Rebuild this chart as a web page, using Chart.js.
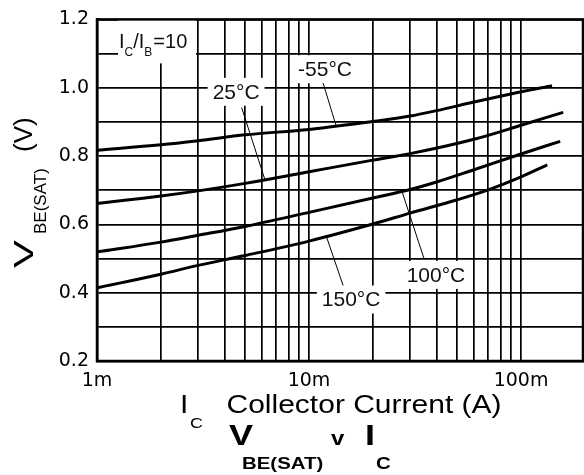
<!DOCTYPE html>
<html><head><meta charset="utf-8">
<script src="https://cdn.jsdelivr.net/npm/chart.js@4.4.1/dist/chart.umd.min.js"></script>
<style>html,body{margin:0;padding:0;background:#fff;}#wrap{width:584px;height:475px;}</style>
</head><body><div id="wrap"><canvas id="c" width="584" height="475"></canvas></div>
<script>
// ---- data (collector current in A, V_BE(SAT) in V) ----
const currentM55 = [0.001, 0.002, 0.003, 0.005, 0.01, 0.02, 0.03, 0.04, 0.06, 0.1, 0.14];
const vbeM55     = [0.817, 0.833, 0.845, 0.862, 0.878, 0.901, 0.917, 0.933, 0.958, 0.988, 1.006];
const current25  = [0.001, 0.002, 0.003, 0.005, 0.01, 0.02, 0.03, 0.06, 0.1, 0.158];
const vbe25      = [0.661, 0.683, 0.698, 0.720, 0.754, 0.788, 0.807, 0.849, 0.890, 0.928];
const current100 = [0.001, 0.002, 0.003, 0.005, 0.01, 0.02, 0.03, 0.04, 0.06, 0.1, 0.153];
const vbe100     = [0.519, 0.548, 0.568, 0.594, 0.635, 0.677, 0.702, 0.724, 0.760, 0.806, 0.843];
const current150 = [0.001, 0.002, 0.003, 0.005, 0.01, 0.02, 0.03, 0.05, 0.07, 0.1, 0.133];
const vbe150     = [0.414, 0.454, 0.480, 0.509, 0.551, 0.601, 0.633, 0.672, 0.701, 0.739, 0.774];

const xMin = 0.001, xMax = 0.196;
const yMin = 0.2, yMax = 1.2;
const xTickValues = [0.001, 0.01, 0.1];
const xTickLabels = ['1m', '10m', '100m'];
const xGridValues = [0.001,0.002,0.003,0.004,0.005,0.006,0.007,0.008,0.009,
                     0.01,0.02,0.03,0.04,0.05,0.06,0.07,0.08,0.09,0.1];
const yTickValues = [0.2, 0.4, 0.6, 0.8, 1.0, 1.2];
const yTickLabels = ['0.2', '0.4', '0.6', '0.8', '1.0', '1.2'];

// curve labels (data coordinates)
const labelTexts    = ['-55°C', '25°C', '100°C', '150°C'];
const labelCurrents = [0.0119, 0.00453, 0.0397, 0.0158];
const labelVoltages = [1.054, 0.988, 0.452, 0.380];
const leaderFromCurrents = [0.01165, 0.00481, 0.0275, 0.0121];
const leaderFromVoltages = [1.014, 0.942, 0.695, 0.563];
const leaderToCurrents   = [0.0134, 0.0062, 0.0349, 0.0145];
const leaderToVoltages   = [0.890, 0.730, 0.499, 0.420];

const toPts = (xs, ys) => xs.map((x, i) => ({x: x, y: ys[i]}));
const SANS = '"Liberation Sans", Arial, sans-serif';

function txt(ctx, s, x, y, font, sx) {
  ctx.save(); ctx.font = font; ctx.translate(x, y); ctx.scale(sx || 1, 1);
  ctx.fillText(s, 0, 0); const w = ctx.measureText(s).width * (sx || 1);
  ctx.restore(); return w;
}

const decorPlugin = {
  id: 'decor',
  afterDatasetsDraw(chart) {
    const ctx = chart.ctx, xs = chart.scales.x, ys = chart.scales.y, ca = chart.chartArea;
    ctx.save();
    ctx.textBaseline = 'alphabetic';
    // Ic/Ib box
    ctx.fillStyle = '#fff';
    ctx.fillRect(ca.left + 21, ca.top, 78, 44);
    ctx.fillStyle = '#111';
    let x = ca.left + 22; const b = ca.top + 29;
    x += txt(ctx, 'I', x, b, '20px ' + SANS);
    x += txt(ctx, 'C', x, b + 8, '12px ' + SANS);
    x += txt(ctx, '/I', x, b, '20px ' + SANS);
    x += txt(ctx, 'B', x, b + 8, '12px ' + SANS);
    x += txt(ctx, '=10', x + 1, b, '20px ' + SANS);
    // leaders
    ctx.strokeStyle = '#000'; ctx.lineWidth = 1;
    for (let i = 0; i < labelTexts.length; i++) {
      ctx.beginPath();
      ctx.moveTo(xs.getPixelForValue(leaderFromCurrents[i]), ys.getPixelForValue(leaderFromVoltages[i]));
      ctx.lineTo(xs.getPixelForValue(leaderToCurrents[i]), ys.getPixelForValue(leaderToVoltages[i]));
      ctx.stroke();
    }
    // curve labels
    ctx.font = '21px ' + SANS;
    for (let i = 0; i < labelTexts.length; i++) {
      const cx = xs.getPixelForValue(labelCurrents[i]);
      const cy = ys.getPixelForValue(labelVoltages[i]);
      const w = ctx.measureText(labelTexts[i]).width;
      ctx.fillStyle = '#fff';
      ctx.fillRect(cx - w / 2 - 5, cy - 14, w + 10, 28);
      ctx.fillStyle = '#111';
      ctx.textAlign = 'center'; ctx.textBaseline = 'middle';
      ctx.fillText(labelTexts[i], cx, cy + 1);
    }
    // frame
    ctx.strokeStyle = '#000'; ctx.lineWidth = 2.5;
    ctx.strokeRect(ca.left, ca.top, ca.right - ca.left, ca.bottom - ca.top);
    ctx.restore();
  },
  afterDraw(chart) {
    const ctx = chart.ctx;
    ctx.save();
    ctx.fillStyle = '#000';
    ctx.textBaseline = 'alphabetic'; ctx.textAlign = 'left';
    // x axis title
    txt(ctx, 'I', 180, 413, '25px ' + SANS, 1.2);
    txt(ctx, 'C', 190, 428, '15px ' + SANS, 1.2);
    txt(ctx, 'Collector Current (A)', 226.5, 413, '25px ' + SANS, 1.2);
    // chart title
    txt(ctx, 'V', 229, 445, 'bold 30px ' + SANS, 1.2);
    txt(ctx, 'BE(SAT)', 242, 469, 'bold 17px ' + SANS, 1.2);
    txt(ctx, 'v', 331, 445, 'bold 20px ' + SANS, 1.2);
    txt(ctx, 'I', 365, 445, 'bold 30px ' + SANS, 1.2);
    txt(ctx, 'C', 376, 469, 'bold 17px ' + SANS, 1.2);
    // y axis title (rotated)
    const rot = (s, bx, by, font, sx) => {
      ctx.save(); ctx.translate(bx, by); ctx.rotate(-Math.PI / 2); ctx.scale(sx || 1, 1);
      ctx.font = font; ctx.fillText(s, 0, 0); ctx.restore();
    };
    rot('V', 33, 268, '28px ' + SANS, 1.5);
    rot('BE(SAT)', 46, 234, '17px ' + SANS, 1);
    rot('(V)', 31.5, 152, '26px ' + SANS, 1);
    ctx.restore();
  }
};

const mk = (label, xs, ys) => ({
  label: label, data: toPts(xs, ys), borderColor: '#000', borderWidth: 3,
  pointRadius: 0, fill: false, cubicInterpolationMode: 'monotone'
});

new Chart(document.getElementById('c'), {
  type: 'line',
  data: { datasets: [
    mk('-55°C', currentM55, vbeM55),
    mk('25°C', current25, vbe25),
    mk('100°C', current100, vbe100),
    mk('150°C', current150, vbe150)
  ]},
  options: {
    responsive: false, animation: false, devicePixelRatio: 1,
    layout: { padding: { left: 0, top: 16, right: 1, bottom: 0 } },
    plugins: { legend: { display: false }, tooltip: { enabled: false }, title: { display: false } },
    scales: {
      x: {
        type: 'logarithmic', min: xMin, max: xMax,
        afterBuildTicks: s => { s.ticks = xGridValues.map(v => ({ value: v })); },
        afterFit: s => { s.height = 114; },
        grid: { color: '#000', lineWidth: 1.7, drawTicks: false },
        border: { display: true, color: '#000', width: 2.5 },
        ticks: {
          autoSkip: false, maxRotation: 0, padding: 9, color: '#000',
          font: { family: '"DejaVu Sans"', size: 19 },
          callback: v => { const i = xTickValues.findIndex(t => Math.abs(t - v) < v * 1e-6); return i >= 0 ? xTickLabels[i] : ''; }
        }
      },
      y: {
        type: 'linear', min: yMin, max: yMax,
        afterFit: s => { s.width = 97; },
        grid: { color: '#000', lineWidth: 1.7, drawTicks: false },
        border: { display: true, color: '#000', width: 2.5 },
        ticks: {
          stepSize: 0.1, padding: 8, color: '#000',
          font: { family: '"DejaVu Sans"', size: 19 },
          callback: v => { const i = yTickValues.findIndex(t => Math.abs(t - v) < 1e-6); return i >= 0 ? yTickLabels[i] : ''; }
        }
      }
    }
  },
  plugins: [decorPlugin]
});
</script></body></html>
